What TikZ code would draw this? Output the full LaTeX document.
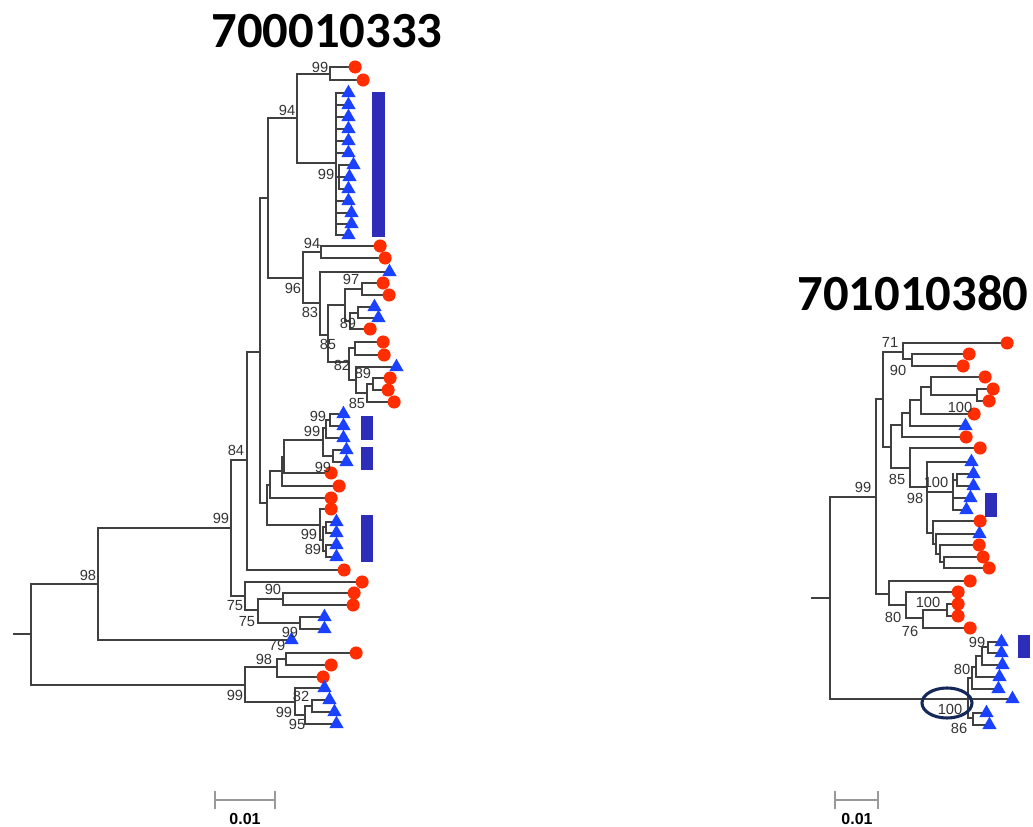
\documentclass[tikz,border=0pt]{standalone}
\usepackage{fontspec}
\setmainfont{Liberation Sans}
\newfontfamily\titlefont{Carlito}
\usetikzlibrary{shapes.geometric}
\definecolor{leafred}{RGB}{255,45,0}
\definecolor{leafblue}{RGB}{25,65,255}
\definecolor{barblue}{RGB}{45,45,185}
\definecolor{ringblue}{RGB}{20,40,90}
\begin{document}
\begin{tikzpicture}[x=0.75pt,y=-0.75pt,
    branch/.style={draw=black!75,line width=0.9pt,line cap=rect},
    redleaf/.style={circle,fill=leafred,inner sep=0pt,minimum size=9.8pt,anchor=west},
    blueleaf/.style={regular polygon,regular polygon sides=3,fill=leafblue,inner sep=0pt,minimum size=12.4pt,anchor=west},
    cladebar/.style={fill=barblue},
    boot/.style={font=\fontsize{11}{11}\selectfont,text=black!80,inner sep=0pt},
    treetitle/.style={font=\titlefont\bfseries\fontsize{38}{38}\selectfont,inner sep=0pt},
    scalebar/.style={draw=black!40,line width=0.9pt},
    scalelabel/.style={font=\bfseries\fontsize{12}{12}\selectfont,inner sep=0pt},
    ring/.style={ellipse,draw=ringblue,line width=2.3pt,minimum width=37.5pt,minimum height=22.5pt}]
\path[fill=white,use as bounding box] (0,0) rectangle (1033,827);

% titles
\node[treetitle] (t700) at (327,31) {700010333};
\node[treetitle] (t701) at (913,293) {701010380};

% left tree: root stub, internal nodes (parent x / x / top / bottom / joint)
\draw[branch] (14,634) -- (31,634) (31,584) -- (31,685);
\foreach \p/\x/\a/\b/\m in {31/98/528/640/584, 98/231/460/596/528, 231/247/352/570/460,
    247/260/198/503/352, 260/268/118/278/198, 268/297/74/163/118, 297/330/67/80/74,
    297/336/93/235/163, 336/339/165/189/177, 268/303/252/303/278, 303/321/246/258/252,
    303/320/272/335/303, 320/328/305/362/335, 328/345/289/321/305, 345/362/283/295/289,
    345/350/313/329/321, 350/358/307/318/313, 328/349/348/380/362, 349/355/342/355/348,
    349/356/367/393/380, 356/367/384/402/393, 367/373/378/390/384,
    260/267/485/525/503, 267/270/471/498/485, 270/282/457/486/471, 282/284/440/473/457,
    284/323/428/456/440, 323/326/420/438/428, 326/330/414/426/420, 323/333/450/462/456,
    267/320/509/540/525, 320/323/527/551/540, 323/326/522/533/527, 323/326/545/557/551,
    231/245/582/610/596, 245/258/599/623/610, 258/283/593/605/599, 258/300/617/629/623,
    31/245/667/702/685, 245/277/659/677/667, 277/286/653/665/659,
    245/295/688/715/702, 295/305/706/724/715, 305/312/700/712/706}
  \draw[branch] (\p,\m) -- (\x,\m) (\x,\a) -- (\x,\b);

% left tree leaves
\foreach \s/\e/\y [count=\i] in {330/348/67, 330/356/80, 321/373/246, 321/378/258,
    362/376/283, 362/382/295, 350/363/329, 355/376/342, 355/377/355, 373/383/378,
    373/381/390, 367/387/402, 284/324/473, 282/332/486, 270/324/498, 320/324/509,
    247/337/570, 245/355/582, 283/347/593, 283/346/605, 286/349/653, 286/324/665,
    277/316/677}
  \draw[branch] (\s,\y) -- (\e,\y) node[redleaf] (lr\i) {};
\foreach \s/\e/\y [count=\i] in {336/343/93, 336/343/105, 336/343/117, 336/343/129,
    336/343/141, 336/343/153, 339/348/165, 339/344/177, 339/343/189, 336/343/201,
    336/346/213, 336/346/224, 336/343/235, 320/384/272, 358/369/307, 358/373/318,
    356/391/367, 330/338/414, 330/338/426, 326/338/438, 333/341/450, 333/341/462,
    326/331/522, 326/331/533, 326/331/545, 326/331/557, 300/319/617, 300/319/629,
    98/286/640, 295/319/688, 312/324/700, 312/329/712, 305/331/724}
  \draw[branch] (\s,\y) -- (\e,\y) node[blueleaf] (lb\i) {};

% left tree bars
\fill[cladebar] (372,92) rectangle (385,237);
\fill[cladebar] (361,416) rectangle (373,440);
\fill[cladebar] (361,447) rectangle (373,470);
\fill[cladebar] (361,515) rectangle (373,562);

% left tree bootstrap values
\foreach \x/\y/\t [count=\i] in {88/575/98, 221/518/99, 236/450/84, 287/110/94, 320/67/99,
    326/174/99, 312/243/94, 293/288/96, 351/279/97, 310/312/83, 348/323/89, 328/344/85,
    342/365/82, 363/373/89, 357/403/85, 318/416/99, 312/431/99, 323/467/99, 309/534/99,
    313/549/89, 273/589/90, 235/606/75, 247/622/75, 290/632/99, 277/645/79, 264/659/98,
    235/695/99, 301/696/82, 284/712/99, 297/724/95}
  \node[boot] (lv\i) at (\x,\y) {\t};

% right tree
\draw[branch] (812,598) -- (830,598) (830,497) -- (830,699);
\foreach \p/\x/\a/\b/\m in {830/876/399/594/497, 876/883/352/447/399, 883/903/343/359/352,
    903/912/354/366/359, 883/891/425/468/447, 891/902/413/437/425, 902/910/400/426/413,
    910/921/387/414/400, 921/931/377/395/387, 931/977/389/401/395, 891/910/448/487/468,
    910/927/462/533/487, 927/953/474/510/492, 953/957/474/486/480, 927/933/521/544/533,
    933/936/534/554/544, 936/940/545/562/554, 940/944/557/568/562,
    876/889/581/605/594, 889/906/592/618/605, 906/923/610/628/618, 923/947/604/616/610,
    830/968/678/718/699, 968/972/667/689/678, 972/976/656/677/667, 976/982/647/665/656,
    982/988/642/653/647, 968/973/713/725/718}
  \draw[branch] (\p,\m) -- (\x,\m) (\x,\a) -- (\x,\b);
\foreach \s/\e/\y [count=\i] in {903/1000/343, 912/962/354, 912/956/366, 931/978/377,
    977/986/389, 977/982/401, 921/967/414, 902/959/437, 910/973/448, 933/973/521,
    940/972/545, 944/976/557, 944/982/568, 889/963/581, 906/951/592, 947/951/604,
    947/951/616, 923/963/628}
  \draw[branch] (\s,\y) -- (\e,\y) node[redleaf] (rr\i) {};
\foreach \s/\e/\y [count=\i] in {910/960/426, 927/966/462, 957/968/474, 957/968/486,
    953/965/498, 953/961/510, 936/974/534, 988/996/642, 988/996/653, 982/997/665,
    976/994/677, 972/993/689, 968/1007/699, 973/981/713, 973/984/725}
  \draw[branch] (\s,\y) -- (\e,\y) node[blueleaf] (rb\i) {};
\fill[cladebar] (985,493) rectangle (997,517);
\fill[cladebar] (1018,635) rectangle (1030,658);
\foreach \x/\y/\t [count=\i] in {890/342/71, 898/370/90, 960/407/100, 897/479/85,
    936/482/100, 915/498/98, 863/487/99, 928/602/100, 893/617/80, 910/631/76,
    977/642/99, 962/669/80, 950/709/100, 959/728/86}
  \node[boot] (rv\i) at (\x,\y) {\t};
\node[ring] (hl) at (947,703) {};

% scale bars
\coordinate (sl1) at (215,800); \coordinate (sl2) at (275,800);
\coordinate (sr1) at (835,800); \coordinate (sr2) at (878,800);
\draw[scalebar] (sl1) -- (sl2) (sl1) ++(0,-9) -- ++(0,18) (sl2) ++(0,-9) -- ++(0,18);
\draw[scalebar] (sr1) -- (sr2) (sr1) ++(0,-9) -- ++(0,18) (sr2) ++(0,-9) -- ++(0,18);
\node[scalelabel] (ls) at (245,819) {0.01};
\node[scalelabel] (rs) at (857,819) {0.01};
\end{tikzpicture}
\end{document}
